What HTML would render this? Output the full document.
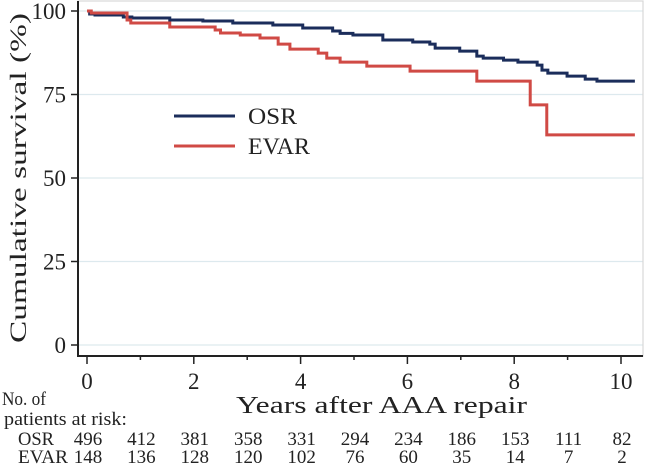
<!DOCTYPE html>
<html><head><meta charset="utf-8"><style>
body{margin:0;background:#fff}
svg{display:block;font-family:"Liberation Serif",serif}
</style></head><body>
<svg width="646" height="465" xmlns="http://www.w3.org/2000/svg">
<g id="grid"></g>
<rect x="78" y="1" width="565" height="355" fill="none" stroke="#d8d8d8" stroke-width="1.2"/>
<g id="axes"></g>
<g id="curves"></g>
<g>
<line x1="174" y1="116" x2="235" y2="116" stroke="#1b2d5b" stroke-width="3"/>
<text x="248" y="124" font-size="23" textLength="49" lengthAdjust="spacingAndGlyphs" fill="#222">OSR</text>
<line x1="174" y1="146" x2="235" y2="146" stroke="#d04a45" stroke-width="3"/>
<text x="248" y="154" font-size="23" textLength="62" lengthAdjust="spacingAndGlyphs" fill="#222">EVAR</text>
</g>
<text transform="translate(26,178) rotate(-90)" text-anchor="middle" font-size="23" textLength="330" lengthAdjust="spacingAndGlyphs" fill="#222">Cumulative survival (%)</text>
<text x="236" y="413" font-size="24" textLength="291" lengthAdjust="spacingAndGlyphs" fill="#222">Years after AAA repair</text>
<text x="2" y="405" font-size="19" textLength="44" lengthAdjust="spacingAndGlyphs" fill="#222">No. of</text>
<text x="4" y="425" font-size="19" textLength="123" lengthAdjust="spacingAndGlyphs" fill="#222">patients at risk:</text>
<g id="risk"></g>
</svg>
<script>
const yTicks=[0,25,50,75,100];
const xTicks=[0,2,4,6,8,10];
const osrT=[0,0.05,0.15,0.68,0.84,1.55,2.17,2.73,3.48,4.04,4.6,4.74,4.98,5.54,6.1,6.42,6.52,6.98,7.3,7.42,7.8,8.07,8.43,8.52,8.63,8.99,9.33,9.55];
const osrS=[100,99.1,98.8,98.2,97.9,97.3,97,96.4,95.8,94.9,94,93.3,92.8,91.3,90.7,90.1,88.9,88,86.5,85.9,85.3,84.7,83.8,82.3,81.4,80.5,79.6,79];
const evarT=[0,0.08,0.75,0.82,1.55,2.4,2.5,2.87,3.24,3.58,3.8,4.33,4.49,4.74,5.24,6.05,7.3,8.3,8.61];
const evarS=[100,99.4,97.3,96.4,95.2,94.3,93.4,92.8,91.9,90.1,88.6,87.4,85.9,84.7,83.5,82,79,71.9,62.9];
const endT=10.26;
const riskYears=[0,1,2,3,4,5,6,7,8,9,10];
const osrRisk=[496,412,381,358,331,294,234,186,153,111,82];
const evarRisk=[148,136,128,120,102,76,60,35,14,7,2];
const NS="http://www.w3.org/2000/svg";
const X=t=>87+t*53.4, Y=v=>345-v*3.34;
function mk(tag,at,parent){const e=document.createElementNS(NS,tag);for(const k in at)e.setAttribute(k,at[k]);document.getElementById(parent).appendChild(e);return e;}
yTicks.forEach(v=>{
 const g=mk('line',{x1:79,x2:643,y1:Y(v),y2:Y(v),stroke:'#dde9ee','stroke-width':1.2},'grid');
 
 
 const t=mk('line',{x1:71,x2:78,y1:Y(v),y2:Y(v),stroke:'#222','stroke-width':1.5},'axes');
 
 
 const l=mk('text',{x:66,y:Y(v)+8,'text-anchor':'end','font-size':23,fill:'#222'},'axes');
 l.textContent=v;
 
 
});
const ya=mk('line',{x1:78,x2:78,y1:1,y2:357,stroke:'#222','stroke-width':2},'axes');


const xa=mk('line',{x1:77,x2:643,y1:356,y2:356,stroke:'#222','stroke-width':2},'axes');


for(let i=0;i<=10;i++){
 const t=mk('line',{x1:X(i),x2:X(i),y1:356,y2:i%2?360:364,stroke:'#222','stroke-width':1.5},'axes');
 
 
}
xTicks.forEach(v=>{
 const l=mk('text',{x:X(v),y:389,'text-anchor':'middle','font-size':23,fill:'#222'},'axes');
 l.textContent=v;
 
 
});
function path(T,S){let d=`M${X(T[0])},${Y(S[0])}`;for(let i=1;i<T.length;i++){d+=`H${X(T[i])}V${Y(S[i])}`;}d+=`H${X(endT)}`;return d;}
const po=mk('path',{d:path(osrT,osrS),fill:'none',stroke:'#1b2d5b','stroke-width':3},'curves');


const pe=mk('path',{d:path(evarT,evarS),fill:'none',stroke:'#d04a45','stroke-width':3},'curves');


[['OSR',osrRisk,445,36],['EVAR',evarRisk,463,50]].forEach(([n,arr,y,w])=>{
 const l=mk('text',{x:18,y:y,'font-size':19,textLength:w,lengthAdjust:'spacingAndGlyphs',fill:'#222'},'risk');
 l.textContent=n;
 
 
 arr.forEach((v,i)=>{
  const c=mk('text',{x:X(riskYears[i])+1,y:y,'text-anchor':'middle','font-size':19,fill:'#222'},'risk');
  c.textContent=v;
  
  
 });
});
</script>
</body></html>
